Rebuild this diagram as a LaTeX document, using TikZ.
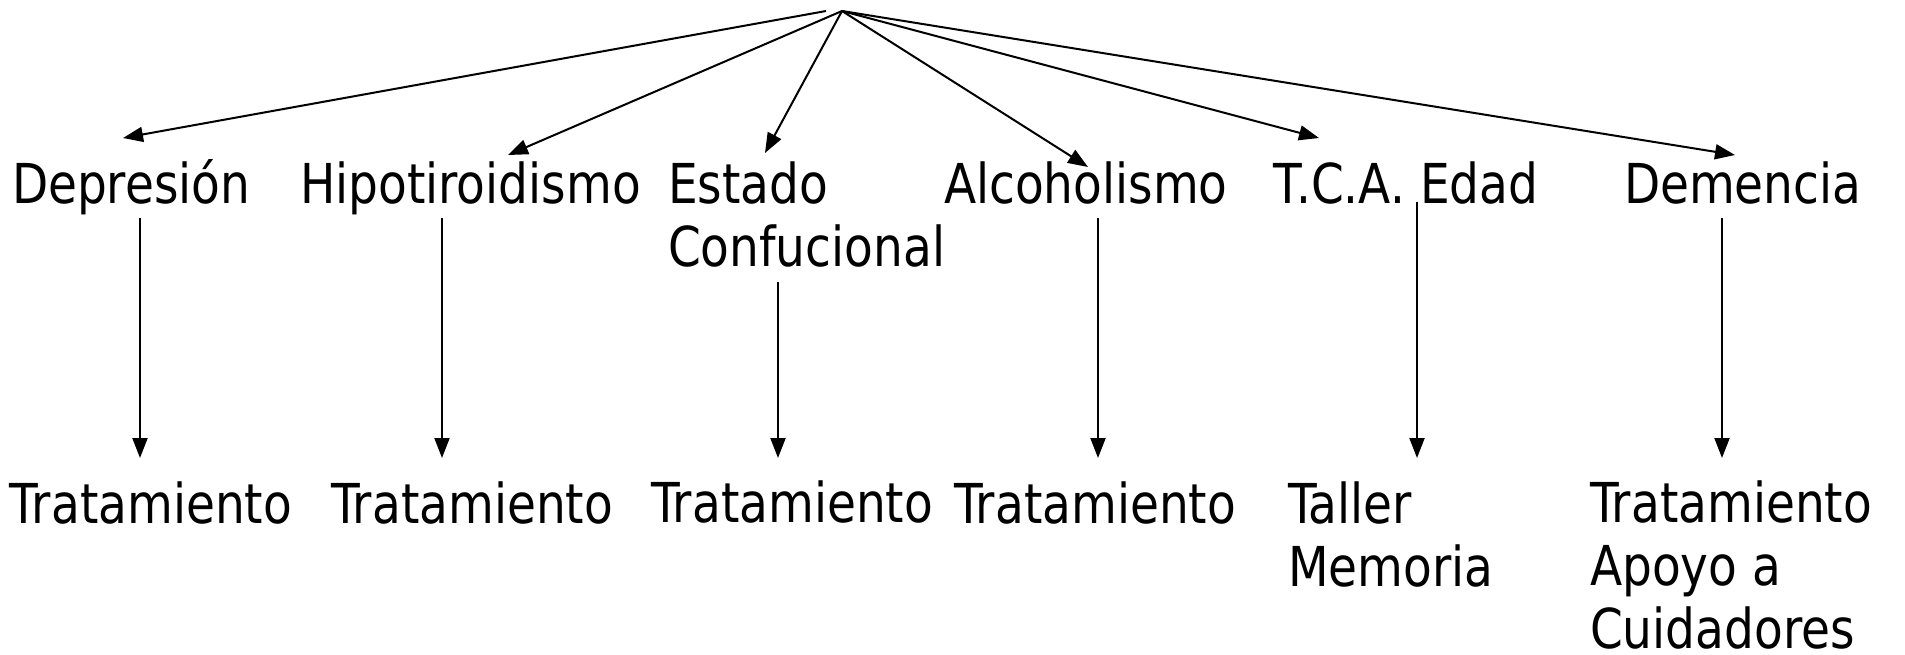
\documentclass[tikz,border=0pt]{standalone}
\usepackage{fontspec}
\newfontfamily\tahfont{DejaVu Sans}[FakeStretch=0.855]
\usetikzlibrary{arrows.meta}
\begin{document}
\begin{tikzpicture}[x=0.5pt,y=-0.5pt,
  lbl/.style={anchor=base west,inner sep=0pt,outer sep=0pt,align=left,
    font=\tahfont\fontsize{27.5pt}{31.5pt}\selectfont},
  conn/.style={line width=1pt,-{Triangle[length=10pt,width=7.5pt]}}]
\useasboundingbox (0,0) rectangle (1905,654);
% top row (base anchor = baseline of the last line)
\node[lbl] (dep) at (12,203) {Depresión};
\node[lbl] (hip) at (300,203) {Hipotiroidismo};
\node[lbl] (est) at (668,266) {Estado\\Confucional};
\node[lbl] (alc) at (944,203) {Alcoholismo};
\node[lbl] (tca) at (1273,203) {T.C.A. Edad};
\node[lbl] (dem) at (1624,203) {Demencia};
% bottom row
\node[lbl] (tdep) at (10,523) {Tratamiento};
\node[lbl] (thip) at (331,523) {Tratamiento};
\node[lbl] (test) at (651,522) {Tratamiento};
\node[lbl] (talc) at (954,523) {Tratamiento};
\node[lbl] (ttca) at (1288,586) {Taller\\Memoria};
\node[lbl] (tdem) at (1590,648) {Tratamiento\\Apoyo a\\Cuidadores};
% connector end points
\coordinate (apex) at (842,11);
\coordinate (apexl) at (826,11);
\coordinate (dIn) at (123,138);
\coordinate (hIn) at (508,155);
\coordinate (eIn) at (765,153);
\coordinate (aIn) at (1088,167);
\coordinate (cIn) at (1319,138);
\coordinate (mIn) at (1735,155);
\coordinate (dOut) at (140,218);
\coordinate (hOut) at (442,218);
\coordinate (eOut) at (778,282);
\coordinate (aOut) at (1098,218);
\coordinate (cOut) at (1417,202);
\coordinate (mOut) at (1722,218);
\coordinate (tdIn) at (140,458);
\coordinate (thIn) at (442,458);
\coordinate (teIn) at (778,458);
\coordinate (taIn) at (1098,458);
\coordinate (tcIn) at (1417,458);
\coordinate (tmIn) at (1722,458);
% fan arrows
\draw[conn] (apexl) -- (dIn);
\draw[conn] (apex) -- (hIn);
\draw[conn] (apex) -- (eIn);
\draw[conn] (apex) -- (aIn);
\draw[conn] (apex) -- (cIn);
\draw[conn] (apex) -- (mIn);
% vertical arrows
\draw[conn] (dOut) -- (tdIn);
\draw[conn] (hOut) -- (thIn);
\draw[conn] (eOut) -- (teIn);
\draw[conn] (aOut) -- (taIn);
\draw[conn] (cOut) -- (tcIn);
\draw[conn] (mOut) -- (tmIn);
\end{tikzpicture}
\end{document}
